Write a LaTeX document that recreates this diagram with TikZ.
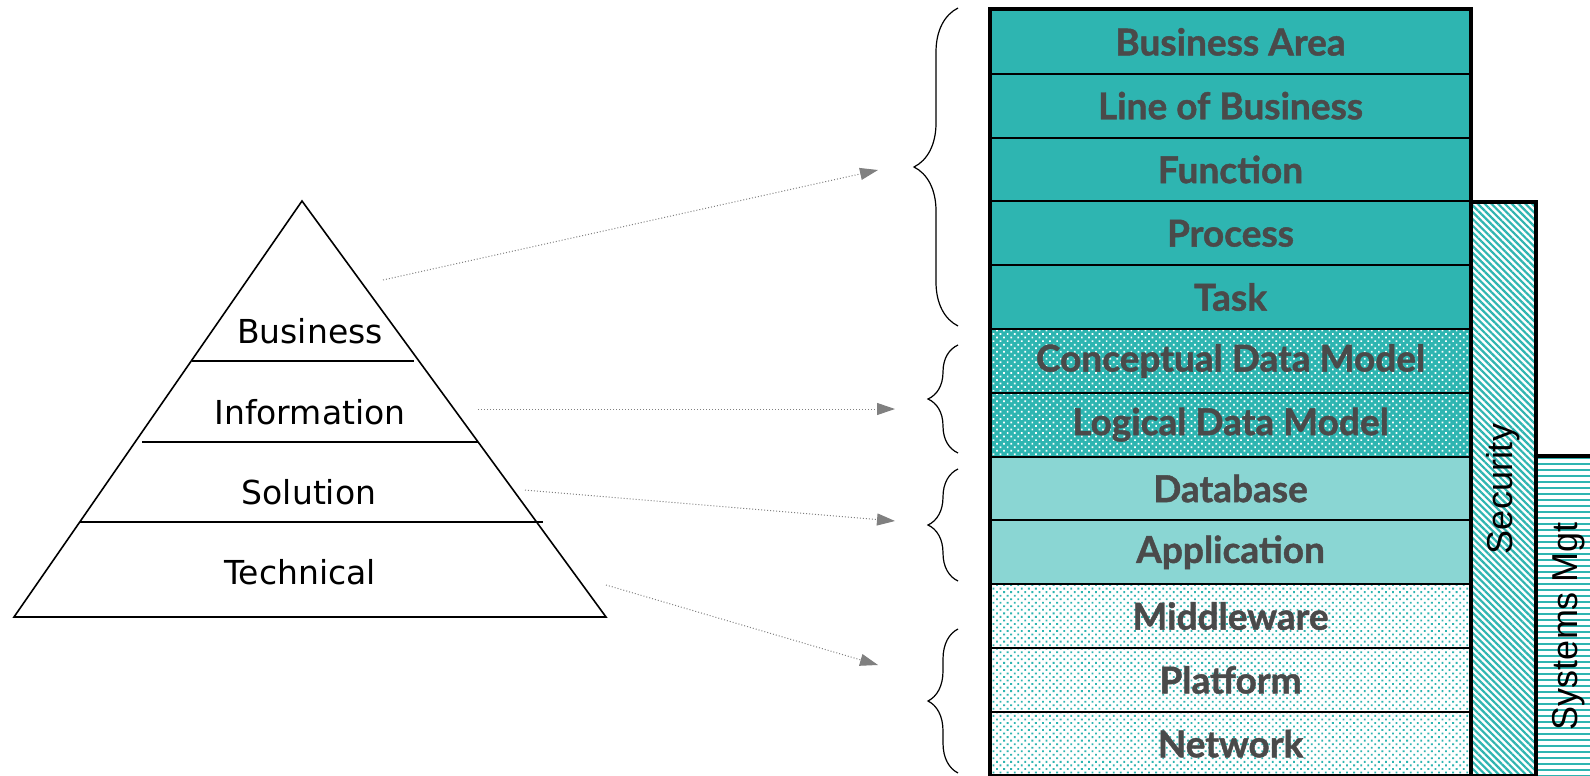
\documentclass[tikz,border=0pt]{standalone}
\usepackage{fontspec}
\setmainfont{DejaVu Sans}
\newfontfamily\layerfont{Lato}[BoldFeatures={FakeBold=1.2}]
\newfontfamily\sidefont{Liberation Sans}
\usetikzlibrary{
  decorations.pathreplacing,
  patterns.meta,
  arrows.meta
}
\definecolor{stackteal}{HTML}{2EB5B1}
\definecolor{labelgray}{HTML}{4A4A4A}
\definecolor{linkgray}{HTML}{808080}

\begin{document}
\begin{tikzpicture}[x=0.5pt,y=-0.5pt]
  \tikzset{
    layer/.style = {
      draw=black, line width=1pt, inner sep=0pt,
      minimum width=239.5pt, minimum height=31.9pt,
      text=labelgray, font=\layerfont\bfseries\fontsize{18.5}{20}\selectfont
    },
    solidteal/.style = {fill=stackteal},
    dotteal/.style = {preaction={fill=stackteal},
      pattern={Dots[radius=0.6pt,distance=2.5pt,angle=45]}, pattern color=white},
    fineteal/.style = {fill=stackteal!56!white},
    lightteal/.style = {preaction={fill=white},
      pattern={Dots[radius=0.65pt,distance=2.5pt,angle=45]}, pattern color=stackteal},
    sidecol/.style = {
      draw=black, line width=2.2pt, rotate=90, inner sep=0pt,
      font=\sidefont\fontsize{18}{20}\selectfont
    },
    tier/.style = {font=\fontsize{16.5}{18}\selectfont},
    link/.style = {densely dotted, linkgray, line width=0.5pt,
      -{Triangle[length=9pt,width=6pt]}},
    grp/.style = {decorate, decoration={brace, amplitude=#1}, line width=0.6pt},
  }
  \useasboundingbox (0,0) rectangle (1590,776);

  % pyramid on the left
  \draw[line width=0.8pt] (14,617) -- (302,201) -- (606,617) -- cycle;
  \draw[line width=0.8pt]
  (192,361) -- (414,361)
  (142,442) -- (478,442)
  (80,522) -- (543,522);
  \node[tier] (business) at (310,331) {Business};
  \node[tier] (information) at (310,412) {Information};
  \node[tier] (solution) at (309,492) {Solution};
  \node[tier] (technical) at (300,572) {Technical};

  % side columns, drawn first so the stack frame sits on top
  \node[sidecol, minimum width=287pt, minimum height=33pt,
    preaction={fill=white},
    pattern={Lines[angle=-45,distance=2.4pt,line width=1.1pt]},
    pattern color=stackteal] (security) at (1503,489) {Security};
  \node[sidecol, minimum width=170pt, minimum height=33pt,
    preaction={fill=white},
    pattern={Lines[distance=3pt,line width=1.3pt]},
    pattern color=stackteal] (sysmgt) at (1569,626) {Systems Mgt};

  % the stack of layers
  \foreach \txt/\sty [count=\i] in {
    Business Area/solidteal, Line of Business/solidteal,
    Function/solidteal, Process/solidteal, Task/solidteal,
    Conceptual Data Model/dotteal, Logical Data Model/dotteal,
    Database/fineteal, Application/fineteal,
    Middleware/lightteal, Platform/lightteal, Network/lightteal}
  \node[layer, \sty] (layer\i) at (1230.5,{10+63.8*(\i-0.5)}) {\txt};
  \draw[line width=2.2pt] (layer1.north west) rectangle (layer12.south east);

  % braces grouping the layers
  \draw[grp=22pt] (958,326) -- (958,8);
  \draw[grp=15pt] (958,453) -- (958,345);
  \draw[grp=15pt] (958,581) -- (958,469);
  \draw[grp=15pt] (958,773) -- (958,629);

  % dotted links from the pyramid to the braces
  \coordinate (from1) at (383,280);
  \coordinate (to1) at (878,170);
  \coordinate (from2) at (478,409);
  \coordinate (to2) at (895,409);
  \coordinate (from3) at (525,490);
  \coordinate (to3) at (895,521);
  \coordinate (from4) at (606,585);
  \coordinate (to4) at (878,665);
  \foreach \i in {1,...,4}
  \draw[link] (from\i) -- (to\i);
\end{tikzpicture}
\end{document}
